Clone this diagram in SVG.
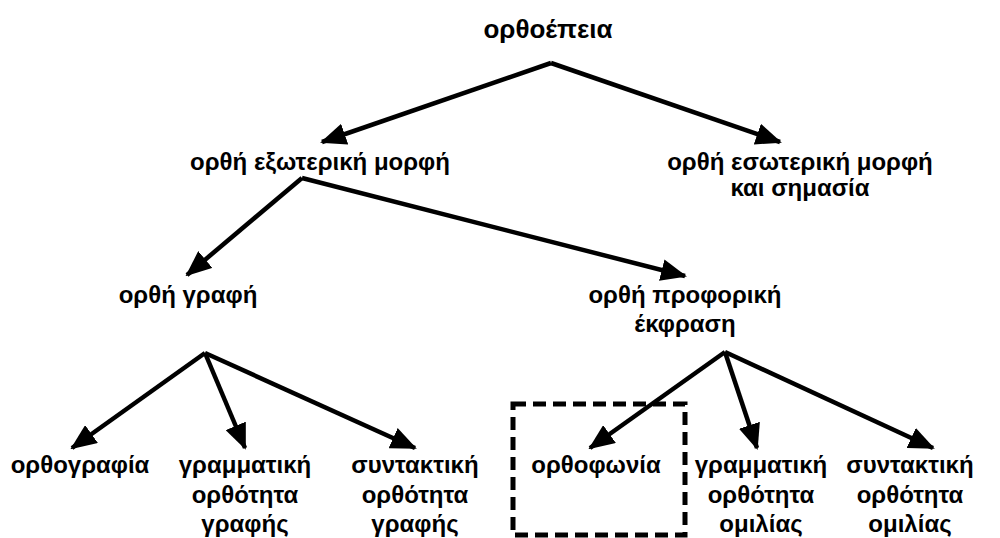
<svg xmlns="http://www.w3.org/2000/svg" width="1000" height="538" viewBox="0 0 1000 538">
<defs>
<marker id="arr" markerUnits="userSpaceOnUse" markerWidth="26" markerHeight="22" viewBox="0 0 26 22" refX="24" refY="11" orient="auto">
<path d="M0,0 L26,11 L0,22 Z" fill="#000"/>
</marker>
<style>
text{font-family:"Liberation Sans",Arial,sans-serif;font-weight:bold;font-size:24px;fill:#000;text-anchor:middle}
.title{font-size:26px}
.c{fill:none;stroke:#000;stroke-width:4.5;marker-end:url(#arr)}
.box{fill:none;stroke:#000;stroke-width:5;stroke-dasharray:13,7}
</style>
</defs>
<rect width="1000" height="538" fill="#fff"/>
<g id="connectors">
<path class="c" d="M551,63 L322,142"/>
<path class="c" d="M551,63 L780,142"/>
<path class="c" d="M302,178 L187,275"/>
<path class="c" d="M302,178 L685,276"/>
<path class="c" d="M205,353 L72,448"/>
<path class="c" d="M205,353 L245,448"/>
<path class="c" d="M205,353 L415,448"/>
<path class="c" d="M725,352 L590,448"/>
<path class="c" d="M725,352 L757,448"/>
<path class="c" d="M725,352 L933,448"/>
</g>
<g id="n-root"><text class="title" x="548" y="38">ορθοέπεια</text></g>
<g id="n-ext"><text x="320" y="170">ορθή εξωτερική μορφή</text></g>
<g id="n-int"><text x="800" y="170">ορθή εσωτερική μορφή</text><text x="800" y="196">και σημασία</text></g>
<g id="n-graph"><text x="188" y="303">ορθή γραφή</text></g>
<g id="n-oral"><text x="685" y="303">ορθή προφορική</text><text x="685" y="332">έκφραση</text></g>
<g id="n-orthografia"><text x="80" y="473">ορθογραφία</text></g>
<g id="n-gram-graf"><text x="245" y="473">γραμματική</text><text x="245" y="503">ορθότητα</text><text x="245" y="532">γραφής</text></g>
<g id="n-synt-graf"><text x="415" y="473">συντακτική</text><text x="415" y="503">ορθότητα</text><text x="415" y="532">γραφής</text></g>
<g id="n-orthofonia"><rect class="box" x="513" y="404" width="172" height="131"/><text x="596" y="473">ορθοφωνία</text></g>
<g id="n-gram-omil"><text x="761" y="473">γραμματική</text><text x="761" y="503">ορθότητα</text><text x="761" y="532">ομιλίας</text></g>
<g id="n-synt-omil"><text x="910" y="473">συντακτική</text><text x="910" y="503">ορθότητα</text><text x="910" y="532">ομιλίας</text></g>
</svg>
